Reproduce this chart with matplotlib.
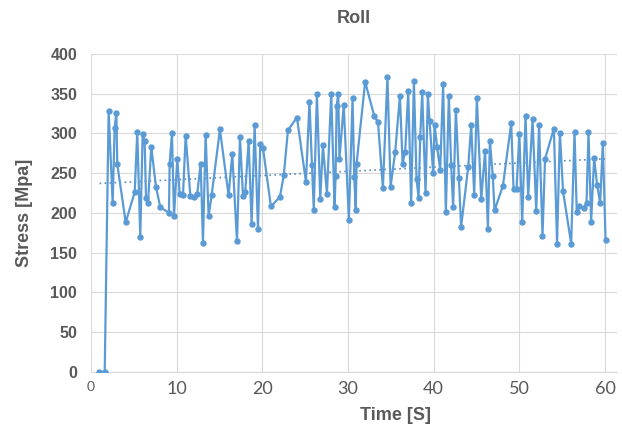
import matplotlib
matplotlib.use("Agg")
import matplotlib.pyplot as plt
import numpy as np

time_s = [0.9, 1.6, 2.06, 2.53, 2.76, 2.96, 3.07, 4.05, 5.1, 5.4, 5.75, 6.03, 6.26, 6.42, 6.65,
          7.04, 7.58, 8.09, 9.1, 9.18, 9.45, 9.69, 10.07, 10.35, 10.74, 11.05, 11.6, 12.0, 12.4,
          12.8, 13.07, 13.38, 13.73, 14.08, 15.05, 16.06, 16.49, 17.04, 17.39, 17.74, 18.0, 18.4,
          18.75, 19.1, 19.49, 19.76, 20.07, 21.0, 22.05, 22.5, 22.99, 24.04, 25.09, 25.5, 25.8,
          26.0, 26.37, 26.76, 27.07, 27.54, 28.04, 28.43, 28.55, 28.67, 28.86, 29.0, 29.5, 30.1,
          30.53, 30.73, 30.9, 31.0, 32.0, 33.06, 33.5, 34.07, 34.6, 34.97, 35.5, 36.06, 36.37,
          36.67, 37.03, 37.37, 37.69, 38.0, 38.24, 38.43, 38.66, 39.05, 39.32, 39.52, 39.94,
          40.1, 40.4, 40.76, 41.1, 41.42, 41.77, 42.04, 42.27, 42.59, 42.94, 43.2, 44.03, 44.38,
          44.73, 45.04, 45.55, 46.0, 46.33, 46.56, 46.9, 47.1, 48.08, 49.05, 49.32, 49.67, 50.0,
          50.33, 50.72, 51.03, 51.54, 51.97, 52.3, 52.7, 53.0, 54.03, 54.4, 54.73, 55.1, 56.05,
          56.44, 56.7, 56.98, 57.53, 57.84, 58.07, 58.38, 58.73, 59.08, 59.43, 59.74, 60.06]
stress = [0, 0, 328, 212, 307, 326, 261, 188, 226, 302, 170, 299, 291, 219, 212,
          283, 233, 207, 200, 262, 300, 196, 268, 224, 223, 297, 221, 220, 224,
          262, 162, 298, 196, 222, 305, 222, 274, 164, 295, 221, 226, 290,
          186, 310, 180, 287, 282, 208, 220, 247, 304, 320, 239, 340, 260,
          204, 350, 217, 285, 224, 350, 207, 246, 334, 350, 268, 336, 191,
          344, 245, 204, 262, 365, 322, 314, 231, 371, 233, 276, 347, 262,
          277, 353, 212, 366, 242, 219, 296, 352, 225, 349, 315, 250,
          311, 283, 254, 362, 201, 347, 260, 207, 330, 244, 182, 258, 310,
          223, 344, 217, 278, 180, 291, 246, 203, 234, 313, 230, 230, 299,
          188, 322, 220, 318, 202, 311, 171, 268, 306, 161, 301, 227, 161,
          302, 201, 209, 206, 213, 302, 189, 269, 235, 212, 288, 166]

# linear trendline (start / end)
trend_time = [1.0, 60.0]
trend_stress = [237, 268]

x_ticks = [0, 10, 20, 30, 40, 50, 60]
y_ticks = [0, 50, 100, 150, 200, 250, 300, 350, 400]

gray = "#595959"
blue = "#5B9BD5"

fig = plt.figure(figsize=(6.22, 4.29), dpi=100)
ax = fig.add_axes([0.1463, 0.1336, 0.8457, 0.7406])

ax.plot(time_s, stress, color=blue, lw=1.6, marker="o", ms=3.6, zorder=3)
ax.plot(trend_time, trend_stress, color="#5B8CC0", lw=1.2, ls=(0, (1, 2)), zorder=2)

ax.set_xlim(0, 61.4)
ax.set_ylim(0, 400)
ax.set_xticks(x_ticks)
ax.set_yticks(y_ticks)
ax.grid(True, color="#D9D9D9", lw=0.8)
ax.set_axisbelow(True)
for sp in ["top", "right", "left"]:
    ax.spines[sp].set_visible(False)
ax.spines["bottom"].set_color("#D9D9D9")
ax.tick_params(length=0, colors=gray)

xl = ax.set_xticklabels([str(v) for v in x_ticks], family=["Lato", "DejaVu Sans"],
                        fontsize=13, color=gray)
xl[0].set_fontsize(10)
ax.tick_params(axis="x", pad=7)
ax.set_yticklabels([str(v) for v in y_ticks], family=["Liberation Sans", "DejaVu Sans"],
                   fontsize=11.5, fontweight="bold", color=gray)
ax.tick_params(axis="y", pad=10)

ax.set_title("Roll", fontsize=13, fontweight="bold", color=gray,
             family=["Liberation Sans", "DejaVu Sans"], pad=22)
ax.set_xlabel("Time [S]", fontsize=13, fontweight="bold", color=gray,
              family=["Liberation Sans", "DejaVu Sans"])
ax.xaxis.set_label_coords(0.578, -0.11)
ax.set_ylabel("Stress [Mpa]", fontsize=13, fontweight="bold", color=gray,
              family=["Liberation Sans", "DejaVu Sans"])
ax.yaxis.set_label_coords(-0.11, 0.5)

fig.savefig("out.png", dpi=100)
